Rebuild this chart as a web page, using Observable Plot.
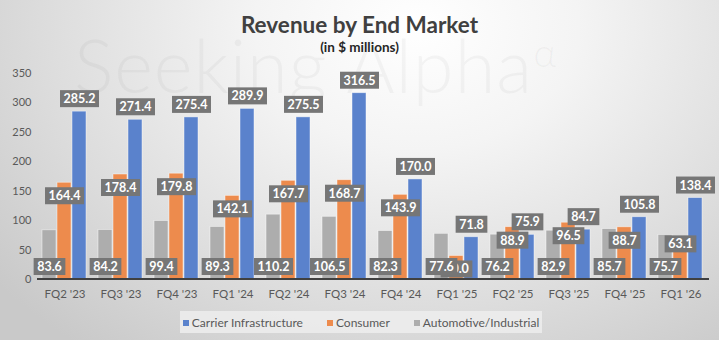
<!DOCTYPE html>
<html><head><meta charset="utf-8">
<script src="https://cdn.jsdelivr.net/npm/d3@7"></script>
<script src="https://cdn.jsdelivr.net/npm/@observablehq/plot@0.6"></script>
<style>
body{margin:0;}
#c{position:relative;width:719px;height:340px;overflow:hidden;
  background:radial-gradient(ellipse 75% 120% at 58% 8%, #ffffff 0%, #f4f4f4 30%, #dcdcdc 70%, #c9c9c9 100%);
  font-family:Lato, "Open Sans", sans-serif;}
#wm{position:absolute;left:74px;top:20px;font-size:74px;font-weight:300;color:rgba(110,110,110,0.06);white-space:nowrap;letter-spacing:1px;}
#title{position:absolute;left:0;width:719px;top:11px;text-align:center;font-weight:bold;font-size:22.5px;color:#404040;}
#sub{position:absolute;left:0;width:719px;top:39px;text-align:center;font-weight:bold;font-size:13.5px;color:#262626;}
#chart{position:absolute;left:0;top:60px;}
#legend{position:absolute;left:180px;top:311px;width:362px;height:22px;background:rgba(236,236,236,0.9);display:flex;align-items:center;justify-content:center;gap:24px;font-size:12px;color:#595959;}
#legend span.sw{display:inline-block;width:6px;height:6px;margin-right:3px;vertical-align:1px;}
</style></head><body>
<div id="c">
  <div id="wm">Seeking Alpha<sup style="font-size:40px">α</sup></div>
  <div id="title">Revenue by End Market</div>
  <div id="sub">(in $ millions)</div>
  <div id="chart"></div>
  <div id="legend"></div>
</div>
<script>
const quarters = ["FQ2 '23","FQ3 '23","FQ4 '23","FQ1 '24","FQ2 '24","FQ3 '24","FQ4 '24","FQ1 '25","FQ2 '25","FQ3 '25","FQ4 '25","FQ1 '26"];
const carrier    = [285.2,271.4,275.4,289.9,275.5,316.5,170.0,71.8,75.9,84.7,105.8,138.4];
const consumer   = [164.4,178.4,179.8,142.1,167.7,168.7,143.9,40.0,88.9,96.5,88.7,63.1];
const automotive = [83.6,84.2,99.4,89.3,110.2,106.5,82.3,77.6,76.2,82.9,85.7,75.7];
const seriesOrder = ["Automotive/Industrial","Consumer","Carrier Infrastructure"];
const legendOrder = ["Carrier Infrastructure","Consumer","Automotive/Industrial"];
const colors = ["#adadad","#ed8b4d","#5a82cc"];
const yTicks = [0,50,100,150,200,250,300,350];

const data = quarters.flatMap((q,i)=>[
  {quarter:q, series:"Automotive/Industrial", value:automotive[i]},
  {quarter:q, series:"Consumer", value:consumer[i]},
  {quarter:q, series:"Carrier Infrastructure", value:carrier[i]}
]);
const bySeries = s => data.filter(d=>d.series===s);
const lastQ = quarters[quarters.length-1];

const W=719, H=245, mT=13, mB=26, mL=37, mR=10;
const labelStyle = {fill:"white", fontWeight:"bold", fontSize:12.5, text:d=>d.value.toFixed(1)};

const plot = Plot.plot({
  width:W, height:H, marginTop:mT, marginBottom:mB, marginLeft:mL, marginRight:mR,
  style:{background:"transparent", fontFamily:"Lato, 'Open Sans', sans-serif", fontSize:"11.5px", color:"#595959", overflow:"visible"},
  fx:{domain:quarters, paddingInner:0.19, paddingOuter:0.09, label:null, axis:"bottom", tickSize:0, tickPadding:10},
  x:{domain:seriesOrder, paddingInner:0.04, paddingOuter:0, axis:null},
  y:{domain:[0,350], ticks:yTicks, label:null, tickSize:0, tickPadding:11},
  color:{domain:seriesOrder, range:colors},
  marks:[
    Plot.barY(data,{fx:"quarter", x:"series", y:"value", fill:"series", stroke:"#ffffff", strokeOpacity:0.55, strokeWidth:0.8}),
    Plot.text(bySeries("Carrier Infrastructure"),{fx:"quarter", x:"series", y:"value", dy:-12.5, ...labelStyle}),
    Plot.text(bySeries("Consumer").filter(d=>d.quarter!==lastQ),{fx:"quarter", x:"series", y:"value", dy:13.5, ...labelStyle}),
    Plot.text(bySeries("Consumer").filter(d=>d.quarter===lastQ),{fx:"quarter", x:"series", y:"value", dy:2, ...labelStyle}),
    Plot.text(bySeries("Automotive/Industrial"),{fx:"quarter", x:"series", y:()=>0, dy:-12.5, ...labelStyle})
  ]
});
document.getElementById("chart").appendChild(plot);

plot.querySelectorAll("g[aria-label='y-axis tick label'] text, g[aria-label='y-axis'] text").forEach(t=>t.setAttribute("font-size","11px"));

// baseline axis line placed with the y scale
const y0 = plot.scale("y").apply(0);
const ns="http://www.w3.org/2000/svg";
const line=document.createElementNS(ns,"line");
line.setAttribute("x1",mL); line.setAttribute("x2",W-mR);
line.setAttribute("y1",y0); line.setAttribute("y2",y0);
line.setAttribute("stroke","#404040"); line.setAttribute("stroke-width","2.2");
plot.appendChild(line);

// data label boxes (behind each label text, same transform)
plot.querySelectorAll("g[aria-label='text'] text").forEach(t=>{
  const b=t.getBBox();
  const r=document.createElementNS(ns,"rect");
  r.setAttribute("x",b.x-3.5); r.setAttribute("width",b.width+7);
  r.setAttribute("y",b.y+b.height/2-8.5); r.setAttribute("height",17);
  r.setAttribute("fill","#767676");
  const tr=t.getAttribute("transform"); if (tr) r.setAttribute("transform",tr);
  t.parentNode.insertBefore(r,t);
});

// legend
const lg=document.getElementById("legend");
legendOrder.forEach(s=>{
  const it=document.createElement("div");
  const sw=document.createElement("span"); sw.className="sw"; sw.style.background=colors[seriesOrder.indexOf(s)];
  it.appendChild(sw); it.appendChild(document.createTextNode(s));
  lg.appendChild(it);
});
</script>
</body></html>
